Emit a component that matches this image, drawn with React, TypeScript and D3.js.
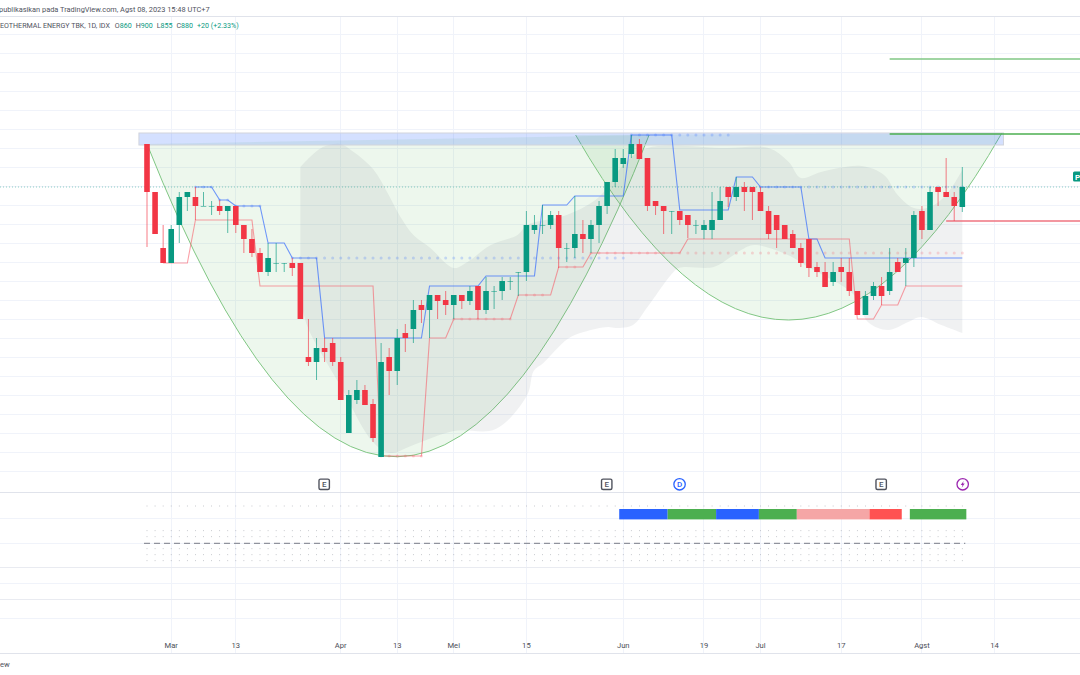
import * as d3 from 'd3';
import * as React from 'react';

// [open, high, low, close], one row per trading day
const candles = [
  [923, 923, 820, 875], [875, 875, 833, 833], [819, 842, 804, 804], [804, 842, 804, 838],
  [842, 875, 824, 870], [870, 875, 856, 875], [870, 880, 847, 861], [861, 875, 861, 861],
  [861, 866, 852, 861], [861, 867, 852, 856], [856, 861, 834, 861], [861, 861, 834, 842],
  [842, 842, 814, 828], [828, 838, 810, 814], [814, 819, 795, 795], [795, 824, 791, 809],
  [804, 824, 795, 804], [804, 804, 795, 804], [804, 809, 791, 799], [804, 804, 748, 748],
  [710, 748, 701, 705], [705, 729, 687, 719], [719, 729, 705, 715], [724, 729, 701, 705],
  [705, 710, 667, 667], [634, 677, 634, 672], [667, 687, 663, 677], [677, 682, 662, 662],
  [663, 668, 625, 629], [610, 724, 610, 705], [710, 719, 672, 696], [696, 738, 682, 729],
  [734, 743, 715, 729], [738, 767, 724, 757], [762, 767, 744, 757], [757, 772, 729, 772],
  [772, 772, 748, 766], [767, 776, 752, 762], [762, 772, 748, 772], [772, 772, 758, 766],
  [766, 781, 762, 776], [781, 781, 748, 757], [757, 790, 753, 776], [776, 781, 758, 776],
  [776, 790, 767, 786], [786, 790, 777, 786], [795, 795, 771, 795], [795, 856, 786, 842],
  [837, 852, 833, 842], [842, 862, 833, 842], [842, 856, 838, 852], [852, 856, 799, 819],
  [819, 824, 805, 819], [819, 871, 809, 833], [833, 847, 814, 828], [828, 847, 814, 842],
  [842, 866, 824, 861], [861, 885, 853, 885], [885, 918, 880, 909], [903, 918, 899, 909],
  [913, 932, 909, 923], [923, 928, 908, 908], [909, 909, 856, 861], [866, 866, 852, 861],
  [861, 861, 833, 856], [856, 856, 833, 856], [856, 856, 842, 847], [852, 852, 829, 842],
  [842, 847, 833, 842], [837, 847, 828, 842], [837, 875, 828, 847], [847, 880, 847, 866],
  [880, 880, 860, 870], [870, 890, 866, 880], [880, 885, 856, 875], [880, 880, 847, 875],
  [875, 880, 856, 856], [856, 861, 828, 833], [852, 852, 819, 837], [842, 842, 828, 828],
  [833, 837, 819, 819], [819, 824, 800, 804], [828, 828, 790, 799], [800, 805, 790, 795],
  [795, 805, 780, 780], [785, 805, 781, 795], [800, 809, 785, 795], [795, 809, 771, 776],
  [776, 776, 752, 752], [752, 776, 752, 771], [771, 785, 767, 781], [781, 790, 762, 771],
  [776, 819, 772, 795], [805, 809, 795, 795], [804, 819, 781, 809], [809, 856, 800, 852],
  [856, 861, 828, 837], [837, 880, 837, 875], [880, 880, 861, 875], [875, 909, 870, 870],
  [870, 875, 846, 861], [860, 900, 855, 880],
];

// [first bar, level]
const blueSteps = [[6, 880], [9, 867], [11, 861], [15, 824], [18, 809], [22, 729], [35, 781], [42, 791], [49, 862], [53, 871], [60, 932], [66, 857], [73, 890], [76, 880], [82, 828], [84, 809]];
const redSteps = [[2, 804], [6, 847], [14, 781], [29, 611], [35, 729], [38, 748], [46, 772], [51, 800], [55, 814], [67, 828], [88, 748], [91, 762], [94, 781]];
const lastBar = 101;

// [first bar, last bar, level]
const blueDots = [[6, 8, 880], [9, 10, 867], [11, 14, 861], [18, 59, 809], [60, 72, 932], [76, 101, 880]];
const pinkDots = [[29, 34, 611], [38, 45, 748], [47, 49, 772], [52, 53, 800], [55, 101, 814]];

const cloudUpper = [[19, 900], [20.2, 910], [21.8, 920], [23.9, 923], [25.6, 915], [28, 898], [29.8, 874], [31.4, 850], [33, 832], [35.1, 819], [38, 799], [39.7, 805], [42.6, 822], [45.9, 832], [47.1, 842], [52, 852], [56, 870], [59, 902], [62, 919], [71.8, 919], [77, 919], [79.5, 905], [81, 889], [83.5, 895], [88.5, 901], [91.3, 892], [93, 872], [95, 859], [97, 860], [99, 872], [101, 897]];
const cloudLower = [[19, 770], [19.9, 740], [23.9, 682], [28, 625], [30.1, 614], [33, 622], [38, 636], [43.2, 638], [47.1, 672], [47.9, 696], [49.1, 704], [52.1, 728], [54.1, 735], [57.1, 740], [58.1, 739], [60.2, 742], [62, 760], [64.9, 792], [65.9, 799], [70.2, 800], [72.3, 810], [73.6, 817], [75.2, 822], [79.4, 812], [81.9, 800], [87.6, 772], [89.3, 745], [91.8, 737], [94.3, 745], [95.9, 750], [98.4, 742], [101, 734]];

// start, control, end of the two drawn cups
const cupLeft = [[0, 923], [31, 293], [62.2, 932]];
const cupRight = [[53.1, 932], [79.5, 561], [105.9, 934]];

const zoneBars = [-1, 106.1];
const zoneLevels = [934, 922];
const levelLines = [[92, 1008, '#81c784', 1.6], [92, 933, '#4caf50', 1.3], [99, 846, '#ef7480', 1.6]] as const;

const timeTicks = [[3, 'Mar'], [11, '13'], [24, 'Apr'], [31, '13'], [38, 'Mei'], [47, '15'], [59, 'Jun'], [69, '19'], [76, 'Jul'], [86, '17'], [96, 'Agst'], [105, '14']] as const;

// first bar, end bar, colour of the status strip
const statusStrip = [[59, 65, '#2962ff'], [65, 71, '#4caf50'], [71, 76.3, '#2962ff'], [76.3, 81, '#4caf50'], [81, 90, '#f5a6a6'], [90, 94, '#ff5252'], [95, 102, '#4caf50']] as const;
const statusRows = [506, 530.7, 536.7, 548.7, 554.7, 560.7];

const earnings = [22, 57, 91];
const dividend = 66;
const split = 101;

const legend = [['O', '860'], ['H', '900'], ['L', '855'], ['C', '880']];

const UP = '#089981';
const DOWN = '#f23645';
const FONT = 'Roboto, sans-serif';

const App = () => {
  const ref = React.useRef<SVGSVGElement | null>(null);

  React.useEffect(() => {
    const svg = d3.select(ref.current);
    svg.selectAll('*').remove();

    const x = d3.scaleLinear().domain([0, 101]).range([147, 962.3]);
    const y = d3.scaleLinear().domain([611, 923]).range([456, 144]);
    const bar = x(1) - x(0);

    svg.append('rect').attr('width', 1080).attr('height', 675).attr('fill', '#fff');

    // grid
    const grid = svg.append('g').attr('stroke', '#f0f3fa').attr('fill', 'none').attr('shape-rendering', 'crispEdges');
    timeTicks.forEach(([b]) => grid.append('line').attr('x1', x(b)).attr('x2', x(b)).attr('y1', 17).attr('y2', 653));
    d3.range(596, 1040, 19).forEach((p) => grid.append('line').attr('x1', 0).attr('x2', 1080).attr('y1', y(p)).attr('y2', y(p)));
    [518, 543.5, 583.5, 618.5].forEach((v) => grid.append('line').attr('x1', 0).attr('x2', 1080).attr('y1', v).attr('y2', v));
    [567.5, 599.5].forEach((v) => grid.append('line').attr('x1', 0).attr('x2', 1080).attr('y1', v).attr('y2', v).attr('stroke', '#e9ebf1'));
    [16.5, 492.5, 653.5].forEach((v) => grid.append('line').attr('x1', 0).attr('x2', 1080).attr('y1', v).attr('y2', v).attr('stroke', '#e0e3eb'));

    // cups
    [cupLeft, cupRight].forEach(([a, c, b]) => {
      const path = d3.path();
      path.moveTo(x(a[0]), y(a[1]));
      path.quadraticCurveTo(x(c[0]), y(c[1]), x(b[0]), y(b[1]));
      svg.append('path').attr('d', path.toString()).attr('fill', '#4caf50').attr('fill-opacity', 0.1).attr('stroke', '#81c784').attr('stroke-width', 1);
    });

    // cloud
    const curve = d3.line<number[]>().x((d) => x(d[0])).y((d) => y(d[1])).curve(d3.curveCatmullRom);
    const cloudPath = `${curve(cloudUpper)}L${curve([...cloudLower].reverse())!.slice(1)}Z`;
    svg.append('path').attr('d', cloudPath).attr('fill', '#787b86').attr('fill-opacity', 0.11);

    // resistance zone
    svg.append('rect')
      .attr('x', x(zoneBars[0]))
      .attr('y', y(zoneLevels[0]))
      .attr('width', x(zoneBars[1]) - x(zoneBars[0]))
      .attr('height', y(zoneLevels[1]) - y(zoneLevels[0]))
      .attr('fill', '#2962ff')
      .attr('fill-opacity', 0.2)
      .attr('stroke', '#d1d4dc')
      .attr('stroke-width', 1);

    // last price line
    svg.append('line').attr('x1', 0).attr('x2', 1080).attr('y1', y(880)).attr('y2', y(880)).attr('stroke', '#089981').attr('stroke-opacity', 0.45).attr('stroke-dasharray', '1 2');

    levelLines.forEach(([b, p, color, w]) => {
      svg.append('line').attr('x1', x(b)).attr('x2', 1080).attr('y1', y(p)).attr('y2', y(p)).attr('stroke', color).attr('stroke-width', w);
    });

    // stepped channels
    const expand = (steps: number[][]) => {
      const out: number[][] = [];
      steps.forEach(([start, level], i) => {
        const end = i + 1 < steps.length ? steps[i + 1][0] - 1 : lastBar;
        d3.range(start, end + 1).forEach((b) => out.push([b, level]));
      });
      return out;
    };
    const straight = d3.line<number[]>().x((d) => x(d[0])).y((d) => y(d[1]));
    svg.append('path').attr('d', straight(expand(redSteps))).attr('fill', 'none').attr('stroke', '#f7525f').attr('stroke-opacity', 0.55).attr('stroke-width', 1.1);
    svg.append('path').attr('d', straight(expand(blueSteps))).attr('fill', 'none').attr('stroke', '#2962ff').attr('stroke-opacity', 0.65).attr('stroke-width', 1.1);

    const dots = (rows: number[][], color: string) => {
      rows.forEach(([a, b, level]) => {
        d3.range(a, b + 1).forEach((i) => {
          svg.append('circle').attr('cx', x(i)).attr('cy', y(level)).attr('r', 1.5).attr('fill', color).attr('fill-opacity', 0.22);
        });
      });
    };
    dots(blueDots, '#2962ff');
    dots(pinkDots, '#f7525f');

    // candles
    const g = svg.append('g');
    candles.forEach(([o, h, l, c], i) => {
      const color = c >= o ? UP : DOWN;
      g.append('line').attr('x1', x(i)).attr('x2', x(i)).attr('y1', y(h)).attr('y2', y(l)).attr('stroke', color).attr('stroke-opacity', 0.65).attr('stroke-width', 1);
      const top = y(Math.max(o, c));
      const size = Math.abs(y(o) - y(c));
      g.append('rect').attr('x', x(i) - 2.8).attr('y', top).attr('width', 5.6).attr('height', Math.max(size, 0.8)).attr('fill', color).attr('fill-opacity', size < 1 ? 0.65 : 1);
    });

    // events row
    const eventY = 484.3;
    earnings.forEach((b) => {
      const gg = svg.append('g').attr('transform', `translate(${x(b) - 0.4},${eventY})`);
      gg.append('rect').attr('x', -5.2).attr('y', -5.2).attr('width', 10.4).attr('height', 10.4).attr('rx', 1.5).attr('fill', '#fff').attr('stroke', '#50535e').attr('stroke-width', 1.4);
      gg.append('text').attr('text-anchor', 'middle').attr('y', 2.9).attr('font-size', 8).attr('font-family', FONT).attr('font-weight', 500).attr('fill', '#50535e').text('E');
    });
    const d = svg.append('g').attr('transform', `translate(${x(dividend) - 0.2},${eventY})`);
    d.append('circle').attr('r', 5.7).attr('fill', '#fff').attr('stroke', '#2962ff').attr('stroke-width', 1.3);
    d.append('text').attr('text-anchor', 'middle').attr('y', 2.9).attr('font-size', 8).attr('font-family', FONT).attr('font-weight', 500).attr('fill', '#2962ff').text('D');
    const s = svg.append('g').attr('transform', `translate(${x(split) + 0.4},${eventY})`);
    s.append('circle').attr('r', 5.7).attr('fill', '#fff').attr('stroke', '#9c27b0').attr('stroke-width', 1.3);
    s.append('path').attr('d', 'M1-3.4L-2 0.6H-0.2L-1 3.4L2-0.8H0.2Z').attr('fill', '#9c27b0');

    // lower pane
    statusRows.forEach((row) => {
      candles.forEach((_, i) => {
        svg.append('rect').attr('x', x(i) - 0.4).attr('y', row - 0.4).attr('width', 0.8).attr('height', 0.8).attr('fill', '#9598a1').attr('fill-opacity', 0.8);
      });
    });
    statusStrip.forEach(([a, b, color]) => {
      svg.append('rect').attr('x', x(a) - bar / 2).attr('y', 509).attr('width', x(b) - x(a)).attr('height', 10.4).attr('fill', color);
    });
    svg.append('line').attr('x1', x(0) - 3).attr('x2', x(101) + 3).attr('y1', 543.3).attr('y2', 543.3).attr('stroke', '#787b86').attr('stroke-dasharray', '6 4');

    // time axis
    const axis = svg.append('g').attr('font-family', FONT).attr('font-size', 7.6).attr('fill', '#4b4e57').attr('text-anchor', 'middle');
    timeTicks.forEach(([b, label]) => axis.append('text').attr('x', x(b)).attr('y', 647.5).text(label));

    // header
    svg.append('text').attr('x', -1).attr('y', 11.8).attr('font-family', FONT).attr('font-size', 7.4).attr('fill', '#50535e').text('publikasikan pada TradingView.com, Agst 08, 2023 15:48 UTC+7');
    const head = svg.append('text').attr('x', 0).attr('y', 28.2).attr('font-family', FONT).attr('font-size', 7.1).attr('fill', '#50535e');
    head.append('tspan').text('EOTHERMAL ENERGY TBK, 1D, IDX');
    legend.forEach(([k, v], i) => {
      head.append('tspan').attr('dx', i === 0 ? 5 : 4).text(k);
      head.append('tspan').attr('fill', UP).text(v);
    });
    head.append('tspan').attr('dx', 4).attr('fill', UP).text('+20 (+2.33%)');

    svg.append('text').attr('x', 0).attr('y', 667).attr('font-family', FONT).attr('font-size', 7.6).attr('fill', '#50535e').text('ew');

    // price flag, cut by the picture edge
    svg.append('rect').attr('x', 1073).attr('y', 171.5).attr('width', 12).attr('height', 10).attr('rx', 1.5).attr('fill', UP);
    svg.append('text').attr('x', 1075).attr('y', 179.5).attr('font-family', FONT).attr('font-size', 8).attr('font-weight', 700).attr('fill', '#fff').text('P');
  }, []);

  return <svg ref={ref} width={1080} height={675} style={{ position: 'absolute', left: 0, top: 0 }} />;
};

export default App;
